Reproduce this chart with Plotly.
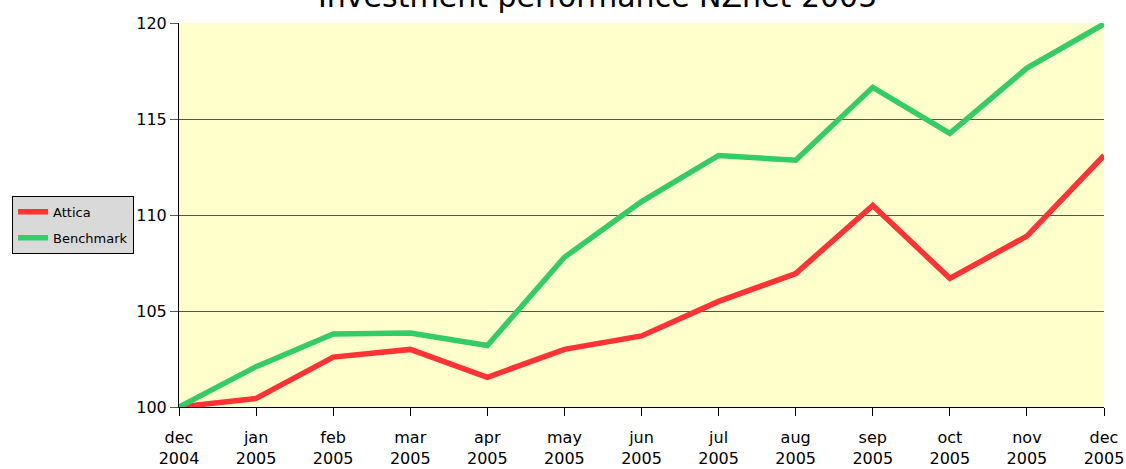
import plotly.graph_objects as go

months = ["dec<br>2004", "jan<br>2005", "feb<br>2005", "mar<br>2005", "apr<br>2005",
          "may<br>2005", "jun<br>2005", "jul<br>2005", "aug<br>2005", "sep<br>2005",
          "oct<br>2005", "nov<br>2005", "dec<br>2005"]
attica = [100.0, 100.45, 102.6, 103.0, 101.55, 103.0, 103.7, 105.5, 106.95, 110.5, 106.7, 108.9, 113.1]
benchmark = [100.0, 102.1, 103.8, 103.85, 103.2, 107.8, 110.7, 113.1, 112.85, 116.65, 114.25, 117.65, 119.95]
y_ticks = [100, 105, 110, 115, 120]

x_idx = list(range(len(months)))

fig = go.Figure()
fig.add_trace(go.Scatter(x=x_idx, y=attica, mode="lines", name="Attica", legendgroup="a",
                         line=dict(color="#ff3333", width=5.5)))
fig.add_trace(go.Scatter(x=x_idx, y=benchmark, mode="lines", name="Benchmark", legendgroup="b",
                         line=dict(color="#33cc66", width=5.5)))

fig.update_layout(
    width=1126, height=469,
    margin=dict(l=179, r=22, t=23, b=62),
    paper_bgcolor="white",
    plot_bgcolor="#ffffcc",
    font=dict(family="DejaVu Sans", size=16, color="black"),
    showlegend=True,
    legend=dict(x=-0.1805, y=0.55, xanchor="left", yanchor="top",
                bgcolor="#d9d9d9", bordercolor="black", borderwidth=1,
                font=dict(size=13), itemwidth=30, traceorder="grouped",
                tracegroupgap=6),
    annotations=[dict(text="Investment performance NZnet 2005", xref="paper", yref="paper",
                      x=0.452, y=1.0, xanchor="center", yanchor="bottom", yshift=7,
                      showarrow=False, font=dict(size=30, color="black"))],
)
fig.update_xaxes(range=[0, len(months) - 1], tickvals=x_idx, ticktext=months,
                 showgrid=False, zeroline=False, showline=True, linecolor="black", linewidth=1,
                 ticks="outside", ticklen=8, tickcolor="black", tickangle=0,
                 automargin=False, ticklabelstandoff=8)
fig.update_yaxes(range=[100, 120], tickvals=y_ticks, showgrid=True, gridcolor="#555555",
                 gridwidth=1, zeroline=False, showline=True, linecolor="black", linewidth=1,
                 ticks="outside", ticklen=8, tickcolor="#555555", automargin=False)

fig.write_html("out.html")
